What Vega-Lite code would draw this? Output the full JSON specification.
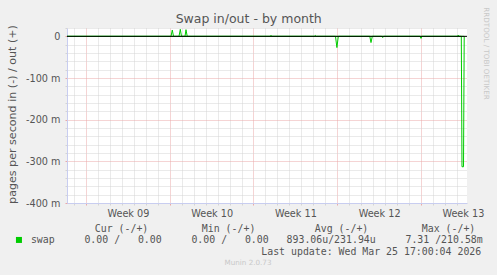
{
  "$schema": "https://vega.github.io/schema/vega-lite/v6.json",
  "width": 400,
  "height": 175,
  "autosize": {"type": "none"},
  "padding": {"left": 67, "top": 28, "right": 30, "bottom": 72},
  "background": "#f0f0f0",
  "config": {"view": {"fill": "white", "stroke": null}, "font": "DejaVu Sans"},
  "title": {"text": "Swap in/out - by month", "fontSize": 12.5, "fontWeight": "normal", "color": "#555555", "font": "DejaVu Sans", "anchor": "middle", "dx": -18.3, "baseline": "alphabetic", "offset": -29},
  "data": {"values": [
    {"series": "swap", "dir": "out", "day": -1.588, "value": 0},
    {"series": "swap", "dir": "out", "day": 7.105, "value": 0},
    {"series": "swap", "dir": "out", "day": 7.213, "value": 0.0151},
    {"series": "swap", "dir": "out", "day": 7.314, "value": 0},
    {"series": "swap", "dir": "out", "day": 7.773, "value": 0},
    {"series": "swap", "dir": "out", "day": 7.882, "value": 0.0168},
    {"series": "swap", "dir": "out", "day": 7.982, "value": 0},
    {"series": "swap", "dir": "out", "day": 8.275, "value": 0},
    {"series": "swap", "dir": "out", "day": 8.358, "value": 0.016},
    {"series": "swap", "dir": "out", "day": 8.459, "value": 0},
    {"series": "swap", "dir": "out", "day": 15.38, "value": 0},
    {"series": "swap", "dir": "out", "day": 15.463, "value": 0.002},
    {"series": "swap", "dir": "out", "day": 15.547, "value": 0},
    {"series": "swap", "dir": "out", "day": 19.082, "value": 0},
    {"series": "swap", "dir": "out", "day": 19.166, "value": 0.002},
    {"series": "swap", "dir": "out", "day": 19.249, "value": 0},
    {"series": "swap", "dir": "out", "day": 31.035, "value": 0},
    {"series": "swap", "dir": "out", "day": 31.118, "value": 0.003},
    {"series": "swap", "dir": "out", "day": 31.202, "value": 0},
    {"series": "swap", "dir": "out", "day": 31.612, "value": 0},
    {"series": "swap", "dir": "in", "day": -1.588, "value": 0},
    {"series": "swap", "dir": "in", "day": 20.854, "value": 0},
    {"series": "swap", "dir": "in", "day": 20.971, "value": -0.027},
    {"series": "swap", "dir": "in", "day": 21.088, "value": 0},
    {"series": "swap", "dir": "in", "day": 23.721, "value": 0},
    {"series": "swap", "dir": "in", "day": 23.821, "value": -0.015},
    {"series": "swap", "dir": "in", "day": 23.93, "value": 0},
    {"series": "swap", "dir": "in", "day": 24.716, "value": 0},
    {"series": "swap", "dir": "in", "day": 24.799, "value": -0.003},
    {"series": "swap", "dir": "in", "day": 24.883, "value": 0},
    {"series": "swap", "dir": "in", "day": 27.917, "value": 0},
    {"series": "swap", "dir": "in", "day": 28.0, "value": -0.005},
    {"series": "swap", "dir": "in", "day": 28.084, "value": 0},
    {"series": "swap", "dir": "in", "day": 31.369, "value": 0},
    {"series": "swap", "dir": "in", "day": 31.427, "value": -0.313},
    {"series": "swap", "dir": "in", "day": 31.553, "value": -0.313},
    {"series": "swap", "dir": "in", "day": 31.612, "value": 0}
  ]},
  "layer": [
    {
      "mark": {"type": "line", "strokeWidth": 1, "clip": true},
      "encoding": {
        "x": {
          "field": "day", "type": "quantitative",
          "scale": {"domain": [-1.588, 31.845], "nice": false, "zero": false},
          "axis": {
            "orient": "bottom",
            "values": [-1,0,1,2,3,4,5,6,7,8,9,10,11,12,13,14,15,16,17,18,19,20,21,22,23,24,25,26,27,28,29,30,31,3.5,10.5,17.5,24.5,31.5],
            "title": ["Cur\u00a0(-/+)\u00a0\u00a0\u00a0\u00a0\u00a0\u00a0\u00a0\u00a0\u00a0Min\u00a0(-/+)\u00a0\u00a0\u00a0\u00a0\u00a0\u00a0\u00a0\u00a0\u00a0\u00a0Avg\u00a0(-/+)\u00a0\u00a0\u00a0\u00a0\u00a0\u00a0\u00a0\u00a0\u00a0Max\u00a0(-/+)", "\u200b\u00a0\u00a0\u00a0\u00a0\u00a0\u00a0\u00a0\u00a0\u00a0\u00a0\u00a0\u00a0\u00a0\u00a0\u00a0\u00a0\u00a0\u00a0\u00a0\u00a0\u00a0\u00a0\u00a0\u00a0\u00a0\u00a0\u00a0\u00a0Last\u00a0update:\u00a0Wed\u00a0Mar\u00a025\u00a017:00:04\u00a02026"],
            "titleFont": "DejaVu Sans Mono", "titleFontSize": 9.9, "titleFontWeight": "normal", "titleColor": "#555555",
            "titleAlign": "left", "titleX": 27.3, "titleY": 28, "titleBaseline": "alphabetic", "titleLineHeight": 23.6,
            "labelExpr": "datum.value === 3.5 ? 'Week 09' : datum.value === 10.5 ? 'Week 10' : datum.value === 17.5 ? 'Week 11' : datum.value === 24.5 ? 'Week 12' : datum.value === 31.5 ? 'Week 13' : ''",
            "labelFont": "DejaVu Sans", "labelFontSize": 9.7, "labelColor": "#555555", "labelOverlap": false, "labelFlush": false, "labelPadding": 3, "labelBaseline": "top",
            "grid": true, "gridDash": [1, 1], "gridWidth": 1,
            "gridColor": {"condition": {"test": "datum.value % 7 === 0", "value": "#eaa8a8"}, "value": "#d4d4d4"},
            "gridOpacity": {"condition": {"test": "datum.value % 1 !== 0", "value": 0}, "value": 1},
            "ticks": true, "tickSize": 2,
            "tickColor": {"condition": {"test": "datum.value % 7 === 0", "value": "#eaa8a8"}, "value": "#d4d4d4"},
            "tickOpacity": {"condition": {"test": "datum.value % 1 !== 0", "value": 0}, "value": 1},
            "domainColor": "#c8cdf0", "domainWidth": 1
          }
        },
        "y": {
          "field": "value", "type": "quantitative",
          "scale": {"domain": [-0.4, 0.02], "nice": false, "zero": false},
          "axis": {
            "orient": "left",
            "values": [-0.4,-0.38,-0.36,-0.34,-0.32,-0.3,-0.28,-0.26,-0.24,-0.22,-0.2,-0.18,-0.16,-0.14,-0.12,-0.1,-0.08,-0.06,-0.04,-0.02,0,0.02],
            "title": "pages per second in (-) / out (+)",
            "titleFont": "DejaVu Sans", "titleFontSize": 11.1, "titleFontWeight": "normal", "titleColor": "#555555",
            "titleX": -55, "titleY": 86, "titleAngle": 270, "titleAlign": "center", "titleBaseline": "middle",
            "labelExpr": "abs(round(datum.value*100)) % 10 === 0 ? (round(datum.value*1000) === 0 ? '0\u00a0\u00a0' : round(datum.value*1000) + ' m') : ''",
            "labelFont": "DejaVu Sans", "labelFontSize": 9.7, "labelColor": "#555555", "labelPadding": 5, "labelOverlap": false, "labelFlush": false,
            "grid": true, "gridDash": [1, 1], "gridWidth": 1,
            "gridColor": {"condition": {"test": "abs(round(datum.value*100)) % 10 === 0", "value": "#eaa8a8"}, "value": "#d4d4d4"},
            "ticks": true, "tickSize": 2,
            "tickColor": {"condition": {"test": "abs(round(datum.value*100)) % 10 === 0", "value": "#eaa8a8"}, "value": "#d4d4d4"},
            "domainColor": "#c8cdf0", "domainWidth": 1
          }
        },
        "color": {
          "field": "series", "type": "nominal",
          "scale": {"range": ["#00cc00"]},
          "legend": {
            "orient": "none", "legendX": -53, "legendY": 207, "padding": 0,
            "title": "Munin 2.0.73", "titleOrient": "bottom", "titleAnchor": "middle", "titleAlign": "center",
            "titleFont": "DejaVu Sans", "titleFontSize": 7.2, "titleFontWeight": "normal", "titleColor": "#c8c8c8", "titlePadding": 14,
            "symbolType": "square", "symbolSize": 36, "symbolStrokeWidth": 0,
            "labelExpr": "'swap\u00a0\u00a0\u00a0\u00a0\u00a00.00\u00a0/\u00a0\u00a0\u00a00.00\u00a0\u00a0\u00a0\u00a0\u00a00.00\u00a0/\u00a0\u00a0\u00a00.00\u00a0\u00a0\u00a0893.06u/231.94u\u00a0\u00a0\u00a0\u00a0\u00a07.31\u00a0/210.58m'",
            "labelFont": "DejaVu Sans Mono", "labelFontSize": 9.9, "labelColor": "#555555", "labelLimit": 800, "labelOffset": 7,
            "encode": {"symbols": {"update": {"fill": {"value": "#00cc00"}, "stroke": {"value": "transparent"}, "opacity": {"value": 1}}}}
          }
        },
        "detail": {"field": "dir", "type": "nominal"}
      }
    },
    {
      "data": {"values": [{"zero": 0}]},
      "mark": {"type": "rule", "color": "#000000", "strokeWidth": 1},
      "encoding": {
        "y": {
          "field": "zero", "type": "quantitative",
          "axis": {
            "orient": "right", "title": "RRDTOOL / TOBI OETIKER",
            "labels": false, "ticks": false, "domain": false, "grid": false,
            "titleAngle": 90, "titleX": 18, "titleY": 25, "titleAlign": "center", "titleBaseline": "middle",
            "titleFont": "DejaVu Sans", "titleFontSize": 7.2, "titleFontWeight": "normal", "titleColor": "#c8c8c8"
          }
        }
      }
    }
  ],
  "resolve": {"axis": {"y": "independent"}}
}
